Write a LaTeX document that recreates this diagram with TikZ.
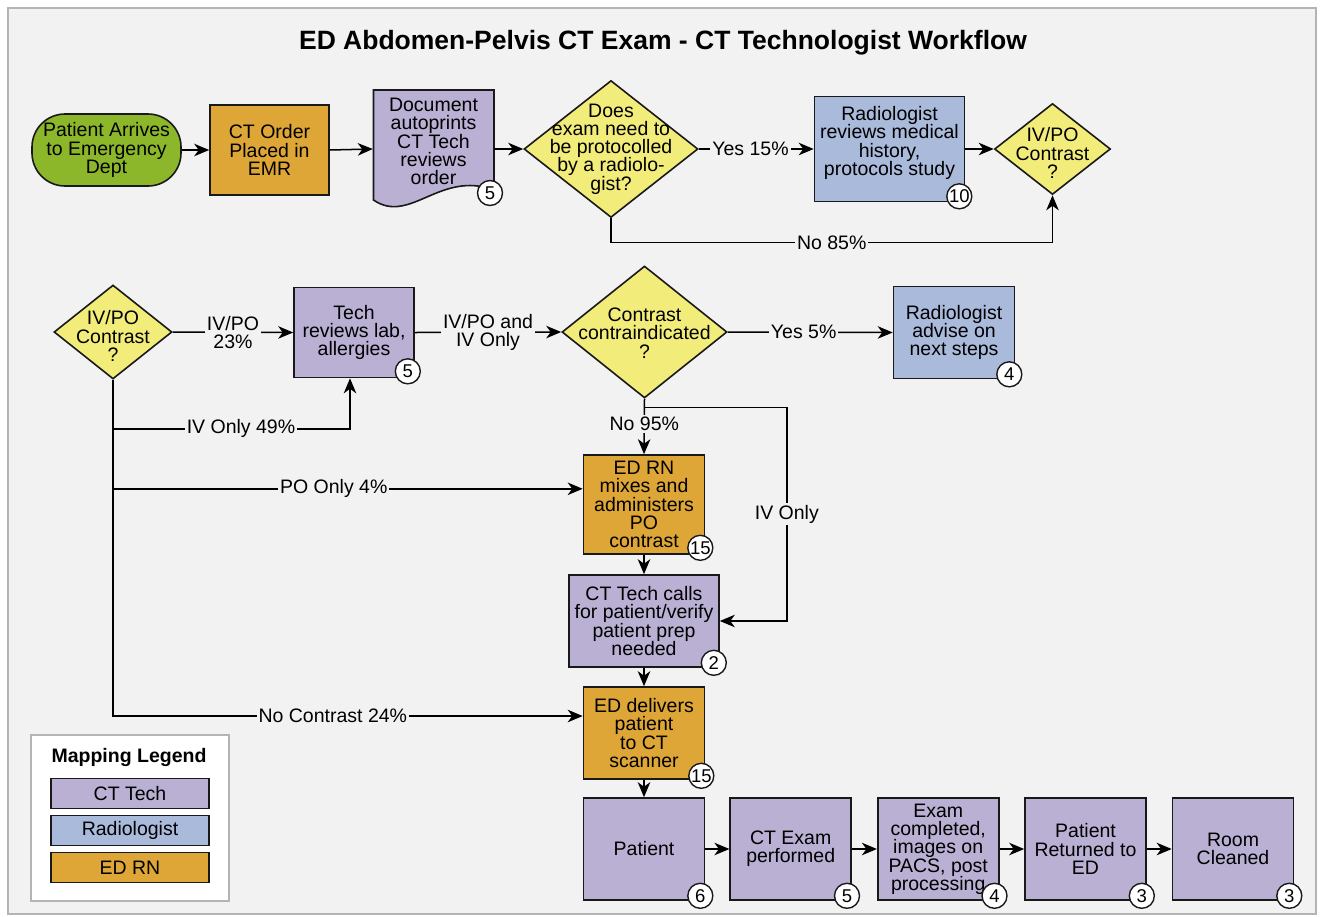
\documentclass[tikz,border=0pt]{standalone}
\usepackage{fontspec}
\setmainfont{Liberation Sans}
\usetikzlibrary{shapes.geometric,arrows.meta,calc}
\definecolor{bgc}{RGB}{242,242,242}
\definecolor{framec}{RGB}{180,180,180}
\definecolor{lav}{RGB}{185,176,211}
\definecolor{blu}{RGB}{170,186,218}
\definecolor{org}{RGB}{222,166,54}
\definecolor{yel}{RGB}{242,237,122}
\definecolor{grn}{RGB}{141,183,42}
\definecolor{edgec}{RGB}{25,25,25}
\newcommand{\myfs}{\fontsize{19.5}{18.3}\selectfont}
\newcommand{\badgefs}{\fontsize{18.5}{18.5}\selectfont}
\tikzset{
  box/.style={draw=edgec, line width=1.6pt, align=center, inner sep=0pt, font=\myfs},
  term/.style={box, fill=grn, rounded corners=33pt},
  dia/.style={draw=edgec, line width=1.6pt, shape=diamond, fill=yel, inner sep=0pt},
  txt/.style={align=center, inner sep=0pt, font=\myfs},
  badge/.style={circle, draw=edgec, fill=white, line width=1.4pt, minimum size=25pt, inner sep=0pt, font=\badgefs},
  arr/.style={draw=black, line width=1.5pt, -{Stealth[length=15pt,width=12.5pt,inset=4.5pt]}},
  lbl/.style={fill=bgc, inner sep=2pt, align=center, font=\myfs},
  legitem/.style={box, minimum width=158pt, minimum height=30pt},
}
\begin{document}
\begin{tikzpicture}[x=1pt,y=-1pt]
\useasboundingbox (0,0) rectangle (1321,916);
\fill[white] (0,0) rectangle (1321,916);
\draw[fill=bgc, draw=framec, line width=1.5pt] (8,8) rectangle (1316,914);

\node[font=\fontsize{26.5}{26.5}\selectfont\bfseries] (title) at (663,43) {ED Abdomen-Pelvis CT Exam - CT Technologist Workflow};

% row 1
\node[term, minimum width=149pt, minimum height=72pt] (start) at (106.5,150) {Patient Arrives\\to Emergency\\Dept};
\node[box, fill=org, minimum width=119pt, minimum height=90pt] (order) at (269.5,150) {CT Order\\Placed in\\EMR};
\node[minimum width=121pt, minimum height=118pt, inner sep=0pt] (doc) at (433.5,149) {};
\path[draw=edgec, line width=1.6pt, fill=lav] (373.5,90) -- (494,90) -- (494,190) .. controls (440,170) and (410,225) .. (373.5,200) -- cycle;
\node[txt] (doct) at (433.5,141.5) {Document\\autoprints\\CT Tech\\reviews\\order};
\node[badge] (b1) at (490,193) {5};
\node[dia, minimum width=174pt, minimum height=137pt] (d1) at (611,149) {};
\node[txt] (d1t) at (611,149) {Does\\exam need to\\be protocolled\\by a radiolo-\\gist?};
\node[box, fill=blu, minimum width=150pt, minimum height=105pt] (rr) at (889.5,149) {};
\node[txt] (rrt) at (889.5,143) {Radiologist\\reviews medical\\history,\\protocols study};
\node[badge] (b2) at ($(rr.south east)+(-6,-6)$) {10};
\node[dia, minimum width=116pt, minimum height=91pt] (d2) at (1052.5,149) {};
\node[txt] (d2t) at (1052.5,153) {IV/PO\\Contrast\\?};

% row 2
\node[dia, minimum width=118pt, minimum height=94pt] (d3) at (113,332) {};
\node[txt] (d3t) at (113,336) {IV/PO\\Contrast\\?};
\node[box, fill=lav, minimum width=120pt, minimum height=90pt] (tech) at (354,332.5) {Tech\\reviews lab,\\allergies};
\node[badge] (b3) at ($(tech.south east)+(-7,-7)$) {5};
\node[dia, minimum width=165pt, minimum height=132pt] (d4) at (644.5,332) {};
\node[txt] (d4t) at (644.5,333) {Contrast\\contraindicated\\?};
\node[box, fill=blu, minimum width=121pt, minimum height=92pt] (adv) at (954,332.5) {Radiologist\\advise on\\next steps};
\node[badge] (b4) at ($(adv.south east)+(-6,-5)$) {4};

% column
\node[box, fill=org, minimum width=121pt, minimum height=99pt] (mix) at (644,504.5) {ED RN\\mixes and\\administers\\PO\\contrast};
\node[badge] (b5) at ($(mix.south east)+(-5,-7)$) {15};
\node[box, fill=lav, minimum width=150pt, minimum height=92pt] (calls) at (644,621) {CT Tech calls\\for patient/verify\\patient prep\\needed};
\node[badge] (b6) at ($(calls.south east)+(-6,-5)$) {2};
\node[box, fill=org, minimum width=121pt, minimum height=92pt] (edd) at (644,733) {ED delivers\\patient\\to CT\\scanner};
\node[badge] (b7) at ($(edd.south east)+(-4,-4)$) {15};

% bottom row
\node[box, fill=lav, minimum width=121pt, minimum height=102pt] (pat) at (644,849) {Patient};
\node[badge] (b8) at ($(pat.south east)+(-5,-5)$) {6};
\node[box, fill=lav, minimum width=121pt, minimum height=102pt] (exam) at (790.7,849) {CT Exam\\performed};
\node[badge] (b9) at ($(exam.south east)+(-5,-5)$) {5};
\node[box, fill=lav, minimum width=121pt, minimum height=102pt] (post) at (938.2,849) {Exam\\completed,\\images on\\PACS, post\\processing};
\node[badge] (b10) at ($(post.south east)+(-5,-5)$) {4};
\node[box, fill=lav, minimum width=121pt, minimum height=102pt] (ret) at (1085.5,849) {Patient\\Returned to\\ED};
\node[badge] (b11) at ($(ret.south east)+(-5,-5)$) {3};
\node[box, fill=lav, minimum width=121pt, minimum height=102pt] (room) at (1233,849) {Room\\Cleaned};
\node[badge] (b12) at ($(room.south east)+(-5,-5)$) {3};

% legend
\node[draw=framec, fill=white, line width=1.3pt, minimum width=198pt, minimum height=166pt, inner sep=0pt] (leg) at (130,818) {};
\node[font=\myfs\bfseries] (legt) at (129,757) {Mapping Legend};
\node[legitem, fill=lav] (l1) at (130,793.3) {CT Tech};
\node[legitem, fill=blu] (l2) at (130,830.5) {Radiologist};
\node[legitem, fill=org] (l3) at (130,867.5) {ED RN};

% connectors row 1
\draw[arr] (start.east) -- (order.west);
\draw[arr] (order.east) -- (doc.west);
\draw[arr] (doc.east) -- (d1.west);
\draw[arr] (d1.east) -- node[lbl,pos=0.45]{Yes 15\%} (rr.west);
\draw[arr] (rr.east) -- (d2.west);
\draw[arr] (d1.south) -- ++(0,24) -| node[lbl,pos=0.25]{No 85\%} (d2.south);

% connectors row 2
\draw[arr] (d3.east) -- node[lbl]{IV/PO\\23\%} (tech.west);
\draw[arr] (tech.east) -- node[lbl]{IV/PO and\\IV Only} (d4.west);
\draw[arr] (d4.east) -- node[lbl,pos=0.46]{Yes 5\%} (adv.west);
\draw[arr] (d4.south) -- node[lbl,pos=0.45]{No 95\%} (mix.north);
\coordinate (k) at ($(d4.south)+(0,8.5)$);
\draw[arr] (k) -| node[lbl,pos=0.75]{IV Only} ($(calls.east)+(67,0)$) -- (calls.east);
\draw[arr] (mix.south) -- (calls.north);
\draw[arr] (calls.south) -- (edd.north);
\draw[arr] (edd.south) -- (pat.north);
\draw[arr] (pat.east) -- (exam.west);
\draw[arr] (exam.east) -- (post.west);
\draw[arr] (post.east) -- (ret.west);
\draw[arr] (ret.east) -- (room.west);

% trunk from IV/PO diamond
\coordinate (j1) at ([yshift=-49pt]d3.south);
\coordinate (j2) at ([yshift=-109pt]d3.south);
\draw[arr] (d3.south) |- node[lbl,pos=0.734]{No Contrast 24\%} ([yshift=17pt]edd.west);
\draw[arr] (j1) -| node[lbl,pos=0.27]{IV Only 49\%} ([xshift=-4pt]tech.south);
\draw[arr] (j2) -- node[lbl,pos=0.47]{PO Only 4\%} (j2 -| mix.west);
\end{tikzpicture}
\end{document}
